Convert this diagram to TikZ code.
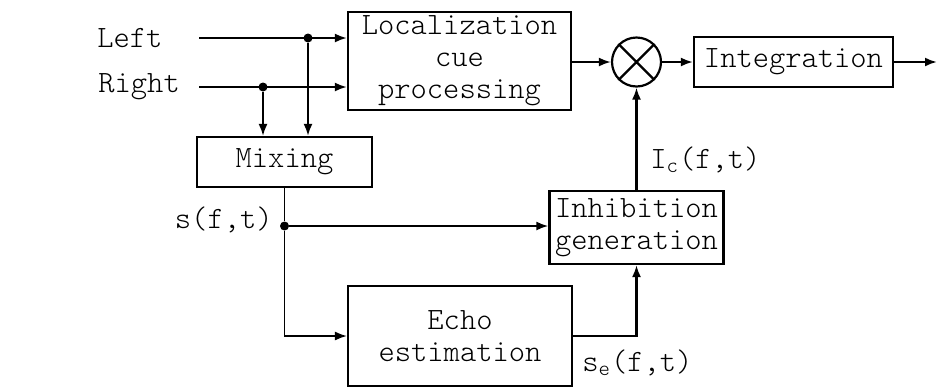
\documentclass[tikz,border=0pt]{standalone}
\usepackage{fontspec}
\setmainfont{lmmonolt10-regular}[Extension=.otf]
\usetikzlibrary{arrows.meta, positioning}

\tikzset{
  block/.style={draw, line width=1.1pt, inner sep=0pt, align=center},
  sig/.style={-{Latex[length=6pt,width=4.5pt]}, line width=1.1pt},
  junction/.style={circle, fill, inner sep=0pt, minimum size=4.5pt},
  lbl/.style={inner sep=0pt},
}

\begin{document}
\begin{tikzpicture}[x=0.5pt, y=-0.5pt, font=\fontsize{15.5}{16}\selectfont]
  \useasboundingbox (0,0) rectangle (937,387);

  % blocks
  \node[block, minimum width=111.5pt, minimum height=49pt] (loc) at (459.5,61) {Localization\\cue\\processing};
  \node[draw, circle, line width=1.1pt, minimum size=24.5pt, inner sep=0pt] (mult) at (636.5,62) {};
  \draw[line width=1.1pt] (mult.north west) -- (mult.south east) (mult.north east) -- (mult.south west);
  \node[block, minimum width=99.5pt, minimum height=25pt] (integ) at (793.5,62) {Integration};
  \node[block, minimum width=87.5pt, minimum height=25pt] (mix) at (284.5,162) {Mixing};
  \node[block, minimum width=87pt, minimum height=36.5pt] (inhib) at (636.5,227.5) {Inhibition\\generation};
  \node[block, minimum width=112pt, minimum height=50pt] (echo) at (460,336) {Echo\\estimation};

  % inputs
  \node[lbl, anchor=west] (left) at (97,38) {Left};
  \node[lbl, anchor=west] (right) at (98,87) {Right};
  \coordinate (l0) at (199,38);
  \coordinate (r0) at (199,87);
  \node[junction] (ldot) at (308,38) {};
  \node[junction] (rdot) at (263,87) {};

  \draw[sig] (l0) -- (l0 -| loc.west);
  \draw[sig] (r0) -- (r0 -| loc.west);
  \draw[sig] (ldot) -- (ldot |- mix.north);
  \draw[sig, line width=0.9pt] (rdot) -- (rdot |- mix.north);

  % forward path
  \coordinate (out) at (937,62);
  \draw[sig] (loc.east |- mult) -- (mult.west);
  \draw[sig] (mult.east) -- (integ.west);
  \draw[sig] (integ.east) -- (out);

  % inhibition path
  \node[junction] (sdot) at (284.5,226) {};
  \draw[line width=0.8pt] (mix.south) -- (sdot);
  \draw[sig] (sdot) -- (sdot -| inhib.west);
  \draw[sig, line width=0.8pt] (sdot) |- (echo.west);
  \draw[sig] (echo.east) -| (inhib.south);
  \draw[sig] (inhib.north) -- (mult.south);

  % signal labels
  \node[lbl, anchor=east] (slabel) at (273,220) {s(f,t)};
  \node[lbl, anchor=west] (ilabel) at (650,160) {I\textsubscript{c}(f,t)};
  \node[lbl, anchor=west] (elabel) at (582,363) {s\textsubscript{e}(f,t)};
\end{tikzpicture}
\end{document}
